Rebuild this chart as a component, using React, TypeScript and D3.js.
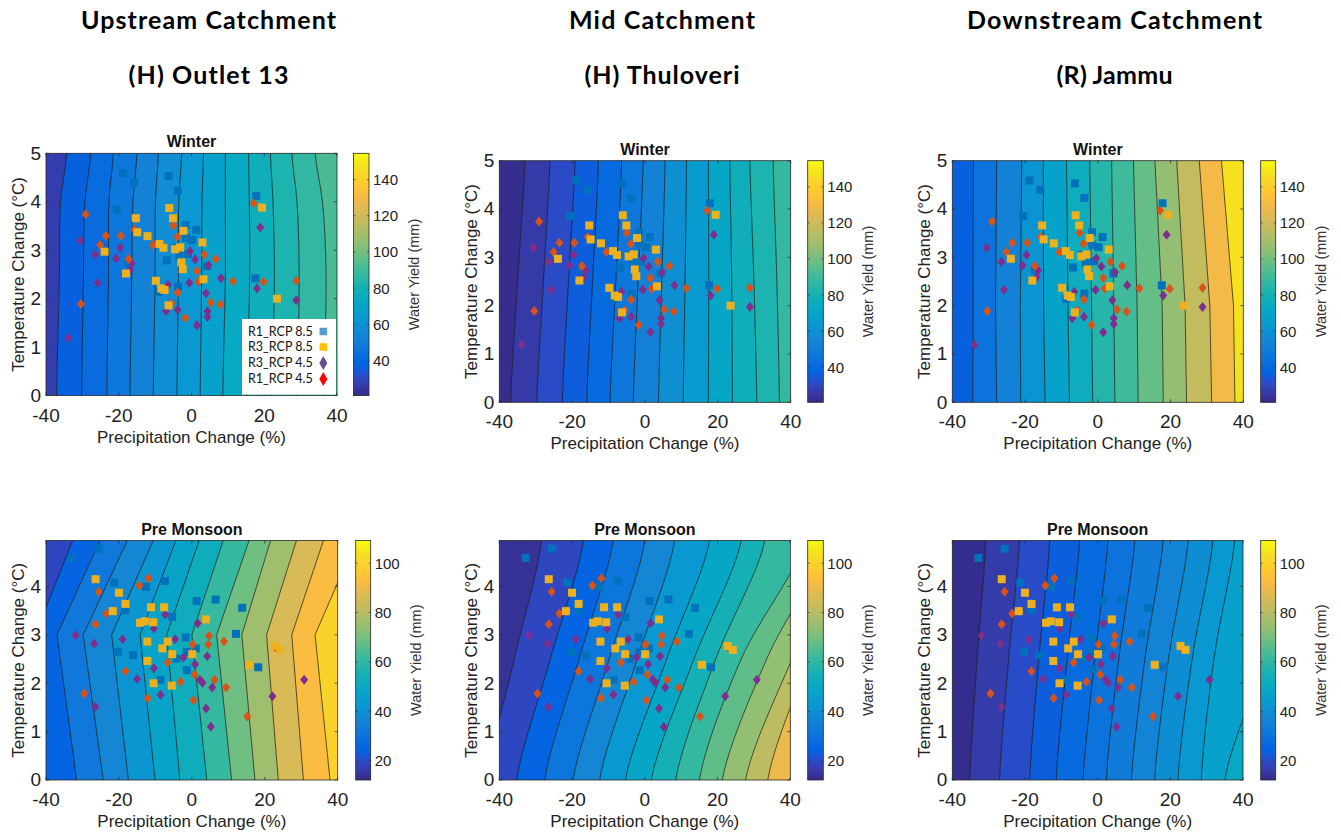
import React from "react";
import * as d3 from "d3";

// ---------------- data ----------------
const P_TICKS = [-40, -20, 0, 20, 40];
const WINTER_T_TICKS = [0, 1, 2, 3, 4, 5];
const PRE_T_TICKS = [0, 1, 2, 3, 4];
const WINTER_T_MAX = 5;
const PRE_T_MAX = 4.95;
const WINTER_CB_RANGE = [20.6, 154.5];
const PRE_CB_RANGE = [12.2, 109.2];
const WINTER_CB_TICKS = [40, 60, 80, 100, 120, 140];
const PRE_CB_TICKS = [20, 40, 60, 80, 100];

const COLUMN_TITLES = ["Upstream Catchment", "Mid Catchment", "Downstream Catchment"];
const STATION_TITLES = ["(H) Outlet 13", "(H) Thuloveri", "(R) Jammu"];
const SEASONS = ["Winter", "Pre Monsoon"];
const LEGEND_LABELS = ["R1_RCP 8.5", "R3_RCP 8.5", "R3_RCP 4.5", "R1_RCP 4.5"];

// contour lines: precipitation change at each temperature level
const UP_WINTER_T = [0, 2.5, 4, 5];
const UP_WINTER_LINES = [
  [-37.1, -36.3, -36.0, -34.3],
  [-30.2, -29.7, -29.3, -27.7],
  [-23.3, -22.8, -22.7, -21.5],
  [-16.9, -16.4, -16.1, -15.0],
  [-10.5, -10.0, -9.9, -9.1],
  [-4.0, -3.6, -3.5, -2.7],
  [2.4, 2.8, 2.9, 3.3],
  [8.6, 9.3, 9.3, 9.3],
  [15.2, 16.0, 15.9, 15.7],
  [22.1, 22.8, 22.4, 21.7],
  [29.0, 29.6, 29.0, 27.6],
  [36.3, 37.0, 36.0, 34.0],
];
const UP_WINTER_LEVELS = [27, 37, 42, 47, 53, 58, 63, 68, 73, 77, 82, 87, 92];

const MID_WINTER_T = [0, 2.5, 5];
const MID_WINTER_LINES = [
  [-36.9, -35.0, -33.0],
  [-29.7, -27.9, -26.1],
  [-22.7, -21.0, -19.2],
  [-16.0, -14.4, -12.8],
  [-9.6, -8.0, -6.4],
  [-3.2, -1.9, -0.5],
  [3.7, 4.6, 5.5],
  [10.5, 11.0, 11.4],
  [17.4, 17.5, 17.4],
  [24.0, 23.8, 23.3],
  [30.7, 29.9, 28.8],
  [36.9, 36.2, 35.2],
];
const MID_WINTER_LEVELS = [22, 26, 31, 36, 41, 47, 53, 59, 65, 71, 77, 82, 88];

const DOWN_WINTER_T = [0, 2, 5];
const DOWN_WINTER_LINES = [
  [-34.4, -34.3, -34.2],
  [-27.8, -28.1, -27.8],
  [-21.2, -21.3, -20.9],
  [-14.5, -14.9, -15.0],
  [-7.8, -8.2, -8.6],
  [-1.4, -1.7, -2.2],
  [4.7, 4.4, 3.8],
  [11.1, 10.8, 9.8],
  [18.0, 17.7, 15.7],
  [24.4, 24.0, 21.7],
  [31.3, 30.8, 27.9],
  [37.7, 37.3, 34.0],
];
const DOWN_WINTER_LEVELS = [37, 45, 53, 61, 69, 76, 84, 90, 97, 106, 117, 130, 147];

const UP_PRE_T = [0, 3, 4.95];
const UP_PRE_LINES = [
  [-55, -43, -32.7],
  [-31.6, -37.0, -25.2],
  [-24.3, -29.8, -17.7],
  [-17.4, -22.0, -10.6],
  [-10.1, -14.2, -4.4],
  [-3.3, -6.9, 2.0],
  [4.1, 0.0, 8.6],
  [10.9, 6.8, 15.7],
  [17.3, 13.7, 21.6],
  [23.7, 20.5, 28.7],
  [30.6, 27.4, 36.1],
  [37.9, 33.8, 45.0],
];
const UP_PRE_LEVELS = [19, 25, 32, 37, 42, 48, 53, 61, 69, 76, 86, 93, 100];

const MID_PRE_T = [0, 2.5, 4.95];
const MID_PRE_LINES = [
  [-43.5, -35.9, -28.4],
  [-35.2, -26.0, -16.9],
  [-27.5, -18.1, -8.7],
  [-19.7, -9.8, 0.0],
  [-12.4, -2.1, 8.2],
  [-5.3, 6.0, 17.8],
  [1.8, 13.5, 26.5],
  [8.5, 19.5, 33.0],
  [15.0, 26.5, 44.0],
  [21.3, 33.5, 50.0],
  [27.7, 40.5, 56.0],
  [33.8, 45.5, 62.0],
];
const MID_PRE_LEVELS = [14, 19, 25, 31, 37, 43, 49, 55, 61, 67, 74, 81, 90];

const DOWN_PRE_T = [0, 2.5, 4.95];
const DOWN_PRE_LINES = [
  [-35.2, -33.2, -30.8],
  [-27.0, -24.5, -21.5],
  [-18.7, -16.2, -13.2],
  [-11.4, -8.4, -5.0],
  [-4.0, -0.8, 2.8],
  [2.4, 5.8, 10.2],
  [9.3, 13.0, 18.0],
  [15.7, 19.5, 24.9],
  [22.1, 26.0, 31.7],
  [28.5, 32.0, 37.7],
  [35.0, 45.7, 55.0],
];
const DOWN_PRE_LEVELS = [13, 16.5, 20, 23.5, 27, 30, 33, 36, 39.5, 43, 46.5, 50];

// scatter points [precip change %, temperature change °C]
const WINTER_R1_RCP85 = [[-18.8,4.59],[-15.8,4.40],[-6.3,4.53],[-3.7,4.23],[-20.5,3.85],[-1.6,3.52],[1.3,3.42],[-1.5,3.26],[0.2,3.21],[-4.4,3.05],[-6.8,2.79],[-3.3,2.88],[-1.0,2.92],[4.3,2.67],[17.8,4.12],[17.6,2.42],[-3.7,2.25],[-8.7,2.14],[-17.3,2.74]];
const WINTER_R3_RCP85 = [[-6.1,3.87],[-5.1,3.66],[-15.3,3.66],[-14.9,3.37],[-12.1,3.29],[-8.8,3.13],[-7.7,3.05],[-2.2,3.40],[-4.5,3.02],[-3.1,3.06],[3.0,3.16],[-23.9,2.97],[-18.0,2.52],[-2.8,2.75],[-2.4,2.61],[-9.8,2.37],[-8.3,2.21],[-7.4,2.18],[3.3,2.40],[-6.3,1.86],[19.4,3.88],[23.5,2.00]];
const WINTER_R3_RCP45 = [[-33.9,1.19],[-30.6,3.20],[-26.5,2.91],[-25.8,2.33],[-19.6,3.05],[-20.7,2.83],[-16.4,2.73],[-16.9,2.59],[-6.5,2.29],[-7.0,1.74],[-3.8,1.77],[-0.6,2.33],[-0.4,2.98],[1.0,2.81],[4.7,2.69],[4.0,2.11],[4.4,1.74],[4.4,1.62],[1.5,1.45],[8.1,2.42],[18.9,3.47],[18.0,2.21],[28.8,1.97]];
const WINTER_R1_RCP45 = [[-29.1,3.74],[-23.5,3.30],[-25.1,3.11],[-19.4,3.30],[-15.7,3.42],[-17.3,2.82],[-10.6,3.11],[-5.0,3.51],[-3.9,3.28],[-30.4,1.89],[1.5,2.57],[1.9,2.35],[3.5,2.91],[6.7,2.82],[11.4,2.36],[5.3,1.92],[7.9,1.88],[-3.8,2.13],[-5.6,1.90],[-1.7,1.60],[17.1,3.97],[19.8,2.35],[28.8,2.37]];

const PRE_R1_RCP85 = [[-32.8,4.59],[-25.6,4.78],[-21.3,4.08],[-12.6,3.99],[-7.4,4.11],[-18.2,3.51],[-5.4,3.37],[1.3,3.70],[6.5,3.73],[13.8,3.56],[12.1,3.02],[-20.2,2.65],[-16.1,2.58],[-1.7,2.95],[-1.4,2.65],[-4.2,2.51],[-1.4,2.27],[-8.6,2.07],[18.2,2.33],[1.1,2.72]];
const PRE_R3_RCP85 = [[-26.4,4.15],[-20.0,3.87],[-18.2,3.64],[-21.7,3.49],[-11.2,3.57],[-7.6,3.57],[-14.2,3.25],[-12.9,3.28],[-10.6,3.26],[3.9,3.32],[-12.2,2.86],[-6.6,2.86],[-8.1,2.72],[-5.4,2.60],[0.1,2.60],[-12.2,2.46],[-10.5,2.00],[-5.5,1.95],[15.7,2.38],[22.8,2.77],[24.2,2.69]];
const PRE_R3_RCP45 = [[-31.9,2.99],[-26.8,2.82],[-26.5,1.51],[-19.0,2.91],[-15.0,2.09],[-10.4,3.13],[-10.4,2.31],[-8.6,1.76],[-7.3,3.42],[-4.6,2.91],[-2.3,2.53],[0.9,2.39],[1.6,3.24],[4.2,2.56],[2.2,2.07],[2.9,2.01],[5.6,1.91],[3.9,1.48],[5.2,1.10],[22.1,1.73],[30.8,2.07]];
const PRE_R1_RCP45 = [[-25.6,3.89],[-26.4,3.22],[-23.5,3.44],[-21.5,3.49],[-14.4,4.02],[-11.9,4.17],[-29.5,1.79],[-18.2,2.25],[-12.1,1.69],[-6.6,2.43],[-3.1,2.03],[0.2,2.80],[0.7,2.18],[0.4,1.65],[4.7,2.98],[4.5,2.80],[6.2,2.07],[8.8,2.86],[9.4,1.91],[15.2,1.31],[22.8,2.75]];

// ---------------- styles / layout ----------------
const PARULA_STOPS: [number, number, number, number][] = [
  [1, 0.2081, 0.1663, 0.5292], [3, 0.2123, 0.2138, 0.627], [5, 0.1959, 0.2645, 0.7279],
  [7, 0.1253, 0.3242, 0.8303], [9, 0.0117, 0.3875, 0.882], [13, 0.0498, 0.4586, 0.8641],
  [17, 0.0793, 0.52, 0.8312], [21, 0.0343, 0.5966, 0.8199], [25, 0.0228, 0.6535, 0.7768],
  [29, 0.0843, 0.6928, 0.7062], [33, 0.2178, 0.725, 0.6193], [37, 0.3953, 0.7459, 0.5244],
  [41, 0.5709, 0.7485, 0.4494], [45, 0.7184, 0.7411, 0.3905], [49, 0.8507, 0.7299, 0.336],
  [51, 0.9139, 0.7258, 0.3063], [53, 0.9739, 0.7314, 0.2666], [55, 0.999, 0.7653, 0.2164],
  [57, 0.988, 0.8066, 0.1794], [59, 0.9697, 0.8481, 0.1475], [61, 0.9589, 0.8949, 0.1132],
  [63, 0.9661, 0.9514, 0.0755], [64, 0.9763, 0.9831, 0.0538],
];
const PARULA_POS = PARULA_STOPS.map((s) => (s[0] - 1) / 63);
const PARULA_COL = PARULA_STOPS.map((s) => d3.rgb(s[1] * 255, s[2] * 255, s[3] * 255).formatHex());
const parula = d3.scaleLinear<string>().domain(PARULA_POS).range(PARULA_COL).interpolate(d3.interpolateRgb).clamp(true);

const SERIES_STYLE = [
  { key: "R1_85", color: "#0072BD", shape: "square" },
  { key: "R3_85", color: "#EDB120", shape: "square" },
  { key: "R3_45", color: "#7E2F8E", shape: "diamond" },
  { key: "R1_45", color: "#D95319", shape: "diamond" },
];
const DRAW_ORDER = [0, 2, 3, 1];
const LEGEND_COLORS = ["#5B9BD5", "#FFC000", "#6A4C8C", "#FF0000"];

const LAYOUT = [
  { l: 46, r: 337, t: 153.3, b: 395.6, cbl: 353.5, cbr: 369 },
  { l: 499.3, r: 790.7, t: 160.7, b: 402.3, cbl: 807.7, cbr: 823.3 },
  { l: 952.3, r: 1243.3, t: 160.7, b: 402.3, cbl: 1260.7, cbr: 1275.7 },
  { l: 46, r: 337.7, t: 540.5, b: 780, cbl: 355.7, cbr: 370.7 },
  { l: 499.3, r: 790.3, t: 540.5, b: 780, cbl: 807.7, cbr: 823.3 },
  { l: 952.3, r: 1243, t: 540.5, b: 780, cbl: 1260.7, cbr: 1275.7 },
];
const TITLE_POS = [
  { x: 208.5, w1: 255, w2: 160 },
  { x: 662, w1: 186, w2: 155 },
  { x: 1114.5, w1: 295, w2: 116 },
];
const AXIS_FONT = "'Liberation Sans', Arial, Helvetica, sans-serif";
const AXIS_COLOR = "#262626";

const WINTER_POINTS = [WINTER_R1_RCP85, WINTER_R3_RCP85, WINTER_R3_RCP45, WINTER_R1_RCP45];
const PRE_POINTS = [PRE_R1_RCP85, PRE_R3_RCP85, PRE_R3_RCP45, PRE_R1_RCP45];

const PANELS = [
  { t: UP_WINTER_T, lines: UP_WINTER_LINES, levels: UP_WINTER_LEVELS, curve: d3.curveCatmullRom, season: 0 },
  { t: MID_WINTER_T, lines: MID_WINTER_LINES, levels: MID_WINTER_LEVELS, curve: d3.curveCatmullRom, season: 0 },
  { t: DOWN_WINTER_T, lines: DOWN_WINTER_LINES, levels: DOWN_WINTER_LEVELS, curve: d3.curveLinear, season: 0 },
  { t: UP_PRE_T, lines: UP_PRE_LINES, levels: UP_PRE_LEVELS, curve: d3.curveLinear, season: 1 },
  { t: MID_PRE_T, lines: MID_PRE_LINES, levels: MID_PRE_LEVELS, curve: d3.curveCatmullRom, season: 1 },
  { t: DOWN_PRE_T, lines: DOWN_PRE_LINES, levels: DOWN_PRE_LEVELS, curve: d3.curveCatmullRom, season: 1 },
];

function Marker({ shape, x, y, color, w = 8, h = 10 }: any) {
  if (shape === "square") {
    return <rect x={x - w / 2} y={y - w / 2} width={w} height={w} fill={color} />;
  }
  return (
    <path d={`M${x},${y - h / 2}L${x + w / 2},${y}L${x},${y + h / 2}L${x - w / 2},${y}Z`} fill={color} />
  );
}

function Panel({ idx }: { idx: number }) {
  const cfg = PANELS[idx];
  const box = LAYOUT[idx];
  const winter = cfg.season === 0;
  const tMax = winter ? WINTER_T_MAX : PRE_T_MAX;
  const tTicks = winter ? WINTER_T_TICKS : PRE_T_TICKS;
  const cbRange = winter ? WINTER_CB_RANGE : PRE_CB_RANGE;
  const cbTicks = winter ? WINTER_CB_TICKS : PRE_CB_TICKS;
  const points = winter ? WINTER_POINTS : PRE_POINTS;

  const x = d3.scaleLinear().domain([-40, 40]).range([box.l, box.r]);
  const y = d3.scaleLinear().domain([0, tMax]).range([box.b, box.t]);
  const cbY = d3.scaleLinear().domain(cbRange).range([box.b, box.t]);
  const colorOf = (v: number) => parula((v - cbRange[0]) / (cbRange[1] - cbRange[0]));
  const lineGen = d3.line().curve(cfg.curve as any);

  const ext = (xs: number[]) => {
    const pts: [number, number][] = cfg.t.map((tv, j) => [x(xs[j]), y(tv)]);
    return [[x(xs[0]), y(-1)] as [number, number], ...pts, [x(xs[xs.length - 1]), y(tMax + 1)] as [number, number]];
  };
  const far = (v: number) => cfg.t.map(() => v);
  const n = cfg.lines.length;
  const clipId = `clip${idx}`;
  const gradId = `grad${idx}`;

  const bands = cfg.levels.map((lv, i) => {
    const left = i === 0 ? far(-400) : cfg.lines[i - 1];
    const right = i === n ? far(400) : cfg.lines[i];
    const lp = ext(left);
    const rp = ext(right).reverse();
    const d = (lineGen(lp) as string) + "L" + (lineGen(rp) as string).slice(1) + "Z";
    const c = colorOf(lv);
    return <path key={i} d={d} fill={c} stroke={c} strokeWidth={0.6} />;
  });
  const contourLines = cfg.lines.map((ln, i) => (
    <path key={i} d={lineGen(ext(ln)) as string} fill="none" stroke="#151515" strokeWidth={0.7} />
  ));

  const cx = (box.l + box.r) / 2;
  const cy = (box.t + box.b) / 2;
  const tickLen = 3;

  return (
    <g>
      <defs>
        <clipPath id={clipId}>
          <rect x={box.l} y={box.t} width={box.r - box.l} height={box.b - box.t} />
        </clipPath>
        <linearGradient id={gradId} x1="0" y1="1" x2="0" y2="0">
          {PARULA_POS.map((p, i) => (
            <stop key={i} offset={p} stopColor={PARULA_COL[i]} />
          ))}
        </linearGradient>
      </defs>
      <g clipPath={`url(#${clipId})`}>
        {bands}
        {contourLines}
        {DRAW_ORDER.map((si) => {
          const st = SERIES_STYLE[si];
          return points[si].map((p, pi) => (
            <Marker key={`${si}-${pi}`} shape={st.shape} x={x(p[0])} y={y(p[1])} color={st.color} />
          ));
        })}
      </g>
      <rect x={box.l} y={box.t} width={box.r - box.l} height={box.b - box.t} fill="none" stroke={AXIS_COLOR} strokeWidth={0.8} />
      {P_TICKS.map((v) => (
        <g key={`xt${v}`}>
          <line x1={x(v)} x2={x(v)} y1={box.b} y2={box.b - tickLen} stroke={AXIS_COLOR} strokeWidth={0.7} />
          <line x1={x(v)} x2={x(v)} y1={box.t} y2={box.t + tickLen} stroke={AXIS_COLOR} strokeWidth={0.7} />
          <text x={x(v)} y={box.b + 26} textAnchor="middle" fontFamily={AXIS_FONT} fontSize={19} fill="#222">
            {v}
          </text>
        </g>
      ))}
      {tTicks.map((v) => (
        <g key={`yt${v}`}>
          <line x1={box.l} x2={box.l + tickLen} y1={y(v)} y2={y(v)} stroke={AXIS_COLOR} strokeWidth={0.7} />
          <line x1={box.r} x2={box.r - tickLen} y1={y(v)} y2={y(v)} stroke={AXIS_COLOR} strokeWidth={0.7} />
          <text x={box.l - 5} y={y(v)} dy="0.34em" textAnchor="end" fontFamily={AXIS_FONT} fontSize={19} fill="#222">
            {v}
          </text>
        </g>
      ))}
      <text x={cx} y={box.b + 47} textAnchor="middle" fontFamily={AXIS_FONT} fontSize={17} fill="#222">
        Precipitation Change (%)
      </text>
      <text
        transform={`translate(${box.l - 28},${cy}) rotate(-90)`}
        textAnchor="middle"
        dy="0.35em"
        fontFamily={AXIS_FONT}
        fontSize={17}
        fill="#222"
      >
        Temperature Change (°C)
      </text>
      <text x={cx} y={box.t - 6} textAnchor="middle" fontFamily={AXIS_FONT} fontSize={16} fontWeight="bold" fill="#111">
        {SEASONS[cfg.season]}
      </text>
      <rect x={box.cbl} y={box.t} width={box.cbr - box.cbl} height={box.b - box.t} fill={`url(#${gradId})`} stroke={AXIS_COLOR} strokeWidth={0.8} />
      {cbTicks.map((v) => (
        <g key={`cb${v}`}>
          <line x1={box.cbr} x2={box.cbr - 2} y1={cbY(v)} y2={cbY(v)} stroke={AXIS_COLOR} strokeWidth={0.6} />
          <line x1={box.cbl} x2={box.cbl + 2} y1={cbY(v)} y2={cbY(v)} stroke={AXIS_COLOR} strokeWidth={0.6} />
          <text x={box.cbr + 4} y={cbY(v)} dy="0.36em" fontFamily={AXIS_FONT} fontSize={15} fill="#222">
            {v}
          </text>
        </g>
      ))}
      <text
        transform={`translate(${box.cbr + 45},${cy}) rotate(-90)`}
        textAnchor="middle"
        dy="0.35em"
        fontFamily={AXIS_FONT}
        fontSize={14.5}
        fill="#333"
      >
        Water Yield (mm)
      </text>
    </g>
  );
}

function Legend() {
  const box = LAYOUT[0];
  const lx = 242;
  const ly = 319;
  const rows = [331.5, 347, 363, 379];
  return (
    <g>
      <rect x={lx} y={ly} width={box.r - lx - 1} height={box.b - ly - 1} fill="#fff" />
      {LEGEND_LABELS.map((lab, i) => (
        <g key={lab}>
          <text x={248} y={rows[i]} dy="0.35em" fontFamily="Lato, 'Open Sans', sans-serif" fontSize={12.5} fill="#111">
            {lab}
          </text>
          <Marker
            shape={SERIES_STYLE[i].shape}
            x={323.3}
            y={rows[i]}
            color={LEGEND_COLORS[i]}
            w={i < 2 ? 7.5 : 8}
            h={14}
          />
        </g>
      ))}
    </g>
  );
}

export default function App() {
  return (
    <div style={{ position: "absolute", left: 0, top: 0 }}>
      <svg width={1341} height={835} style={{ display: "block", background: "#fff" }}>
        {COLUMN_TITLES.map((t, i) => (
          <text
            key={t}
            x={TITLE_POS[i].x}
            y={29}
            textAnchor="middle"
            fontFamily="Lato, 'Open Sans', sans-serif"
            fontWeight="bold"
            fontSize={25}
            textLength={TITLE_POS[i].w1}
            fill="#000"
          >
            {t}
          </text>
        ))}
        {STATION_TITLES.map((t, i) => (
          <text
            key={t}
            x={TITLE_POS[i].x}
            y={84}
            textAnchor="middle"
            fontFamily="Lato, 'Open Sans', sans-serif"
            fontWeight="bold"
            fontSize={25}
            textLength={TITLE_POS[i].w2}
            fill="#000"
          >
            {t}
          </text>
        ))}
        {PANELS.map((_, i) => (
          <Panel key={i} idx={i} />
        ))}
        <Legend />
      </svg>
    </div>
  );
}
